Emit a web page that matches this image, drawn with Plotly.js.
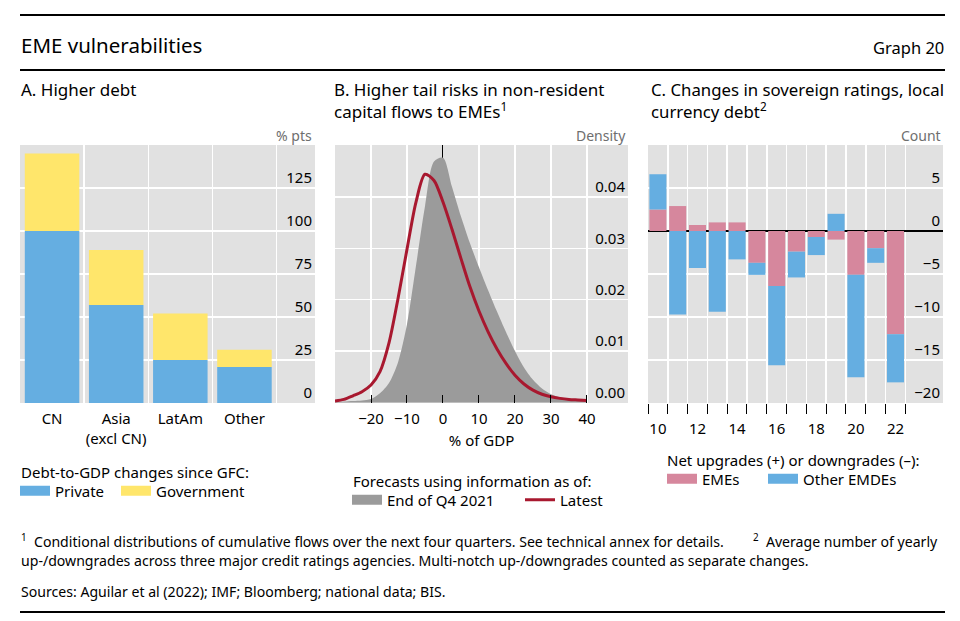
<!DOCTYPE html>
<html><head><meta charset="utf-8">
<script src="https://cdn.plot.ly/plotly-3.0.1.min.js"></script>
<style>html,body{margin:0;padding:0;background:#fff}#chart{width:960px;height:621px}</style>
</head><body><div id="chart"></div>
<script>
// ---------- Panel A: Higher debt ----------
const debtCategories = ['CN', 'Asia<br>(excl CN)', 'LatAm', 'Other'];
const debtPrivate    = [100, 57, 25, 21];
const debtGovernment = [45, 32, 27, 10];
const debtTicks      = [0, 25, 50, 75, 100, 125];

// ---------- Panel B: tail risks in capital flows ----------
const flowX = [-30, -27.5, -25, -22.5, -20, -17.5, -15, -12.5, -10, -7.5, -5, -2.5, 0,
               2.5, 5, 7.5, 10, 12.5, 15, 17.5, 20, 22.5, 25, 27.5, 30, 32.5, 35, 37.5, 40];
const densityQ4 = [0.0001, 0.0002, 0.0003, 0.0004, 0.0007, 0.0018, 0.0038, 0.0078, 0.0152,
                   0.0266, 0.0382, 0.0469, 0.0476, 0.0420, 0.0362, 0.0310, 0.0263, 0.0219,
                   0.0177, 0.0137, 0.0100, 0.0068, 0.0044, 0.0027, 0.0016, 0.0010, 0.0006,
                   0.0004, 0.0003];
const densityLatest = [0.0003, 0.0006, 0.0013, 0.0021, 0.0034, 0.0060, 0.0116, 0.0202, 0.0298,
                       0.0390, 0.0444, 0.0432, 0.0390, 0.0337, 0.0280, 0.0225, 0.0178, 0.0138,
                       0.0104, 0.0076, 0.0053, 0.0036, 0.0024, 0.0016, 0.0011, 0.0008, 0.0006,
                       0.0005, 0.0004];
const flowTicks  = [-30, -20, -10, 0, 10, 20, 30, 40];
const flowLabels = [' ', '−20', '−10', '0', '10', '20', '30', '40'];
const densTicks  = [0, 0.01, 0.02, 0.03, 0.04];

// ---------- Panel C: sovereign rating changes ----------
const ratingYears = [2010, 2011, 2012, 2013, 2014, 2015, 2016, 2017, 2018, 2019, 2020, 2021, 2022];
const ratingEMEs  = [2.5, 2.9, 0.7, 1.0, 1.0, -3.7, -6.4, -2.4, -0.7, -1.0, -5.1, -2.0, -12.0];
const ratingOther = [4.1, -9.7, -4.3, -9.4, -3.3, -1.4, -9.2, -3.0, -2.1, 2.0, -11.9, -1.7, -5.6];
const yearTicks   = [2010, 2012, 2014, 2016, 2018, 2020, 2022];
const yearLabels  = ['10', '12', '14', '16', '18', '20', '22'];
const countTicks  = [-20, -15, -10, -5, 0, 5];
const countLabels = ['−20', '−15', '−10', '−5', '0', '5'];

// ---------- helpers ----------
const W = 960, H = 621;
const px = v => v / W;
const py = v => 1 - v / H;
const FONT = '"Noto Sans", "Open Sans", sans-serif';
const BG = '#E1E1E1';
const BLUE = '#65AEE1', YELLOW = '#FFE66B', PINK = '#D6879D', GREY = '#9B9B9B', RED = '#A8182F';

// legend-only entry drawn as a wide swatch (as in the original's legend keys)
const swatch = (name, color, legend, xa, ya) => ({
  type: 'scatter', mode: 'lines', name: name, x: [null], y: [null],
  line: {color: color, width: 10}, xaxis: xa, yaxis: ya, legend: legend, hoverinfo: 'skip'
});

const traces = [
  {type: 'bar', name: 'Private', x: debtCategories.map((_, i) => i), y: debtPrivate,
   marker: {color: BLUE}, width: 0.85, xaxis: 'x', yaxis: 'y', showlegend: false},
  {type: 'bar', name: 'Government', x: debtCategories.map((_, i) => i), y: debtGovernment,
   marker: {color: YELLOW}, width: 0.85, xaxis: 'x', yaxis: 'y', showlegend: false},
  swatch('Private', BLUE, 'legend', 'x', 'y'),
  swatch('Government', YELLOW, 'legend4', 'x', 'y'),

  {type: 'scatter', mode: 'lines', name: 'End of Q4 2021', x: flowX, y: densityQ4,
   fill: 'tozeroy', fillcolor: GREY, line: {width: 0, color: GREY, shape: 'spline', smoothing: 0.8},
   xaxis: 'x2', yaxis: 'y2', showlegend: false},
  {type: 'scatter', mode: 'lines', name: 'Latest', x: flowX, y: densityLatest,
   line: {width: 3, color: RED, shape: 'spline', smoothing: 0.8}, xaxis: 'x2', yaxis: 'y2',
   legend: 'legend5'},
  swatch('End of Q4 2021', GREY, 'legend2', 'x2', 'y2'),

  {type: 'bar', name: 'EMEs', x: ratingYears, y: ratingEMEs, marker: {color: PINK},
   width: 0.86, xaxis: 'x3', yaxis: 'y3', showlegend: false},
  {type: 'bar', name: 'Other EMDEs', x: ratingYears, y: ratingOther, marker: {color: BLUE},
   width: 0.86, xaxis: 'x3', yaxis: 'y3', showlegend: false},
  swatch('EMEs', PINK, 'legend3', 'x3', 'y3'),
  swatch('Other EMDEs', BLUE, 'legend6', 'x3', 'y3')
];

const tickFont = {family: FONT, size: 15, color: '#000'};
const yDom = [py(403), py(145)];

const yCommon = {
  side: 'right', ticklabelposition: 'inside', ticks: '', showline: false,
  gridcolor: '#FFFFFF', gridwidth: 1.5, tickfont: tickFont, ticklabelshift: -10,
  ticklabelstandoff: 0, domain: yDom
};

const legendAt = (x, y) => ({
  x: px(x), y: py(y), orientation: 'h', xanchor: 'left', yanchor: 'middle',
  bgcolor: 'rgba(0,0,0,0)', borderwidth: 0,
  font: {family: FONT, size: 15, color: '#000'}, itemclick: false, itemdoubleclick: false
});

const layout = {
  width: W, height: H, margin: {l: 0, r: 0, t: 0, b: 0},
  paper_bgcolor: '#FFFFFF', plot_bgcolor: BG, barmode: 'relative', bargap: 0.12,
  font: {family: FONT, size: 15, color: '#000'},
  showlegend: true,

  xaxis: {domain: [px(20), px(315)], range: [-0.5, 4.1], tickvals: [0, 1, 2, 3],
          ticktext: debtCategories, ticks: '', showgrid: false, zeroline: false,
          tickfont: tickFont, anchor: 'y', ticklabelstandoff: 5,
          minor: {tickvals: [0.5, 1.5, 2.5, 3.5], showgrid: true, gridcolor: '#FFFFFF', gridwidth: 1.5, ticks: ''}},
  yaxis: Object.assign({}, yCommon, {anchor: 'x', range: [0, 150], tickvals: debtTicks, zeroline: false}),

  xaxis2: {domain: [px(335), px(628)], range: [-30, 51.4], tickvals: flowTicks, ticktext: flowLabels,
           ticks: 'inside', ticklen: 8, tickcolor: '#000', tickwidth: 1, showgrid: true,
           gridcolor: '#FFFFFF', gridwidth: 1.5, zeroline: true, zerolinecolor: '#000', zerolinewidth: 1,
           tickfont: tickFont, anchor: 'y2', ticklabelstandoff: 5,
           title: {text: '% of GDP', font: {family: FONT, size: 15, color: '#000'}, standoff: 8}},
  yaxis2: Object.assign({}, yCommon, {anchor: 'x2', range: [-0.0001, 0.0501], tickvals: densTicks,
           tickformat: '.2f', zeroline: false}),

  xaxis3: {domain: [px(648), px(943)], range: [2009.5, 2024.4], tickvals: yearTicks, ticktext: yearLabels,
           ticks: '', showgrid: false, zeroline: false, tickfont: tickFont, anchor: 'y3', ticklabelstandoff: 15,
           minor: {tickvals: ratingYears.map(y => y - 0.5).concat([2022.5]), ticks: 'outside', ticklen: 10,
                   tickcolor: '#000', tickwidth: 1, showgrid: true, gridcolor: '#FFFFFF', gridwidth: 1.5}},
  yaxis3: Object.assign({}, yCommon, {anchor: 'x3', range: [-20, 10], tickvals: countTicks,
           ticktext: countLabels, zeroline: true, zerolinecolor: '#000', zerolinewidth: 1.2}),

  legend:  legendAt(15, 491),
  legend4: legendAt(116, 491),
  legend2: legendAt(347, 500),
  legend5: legendAt(520, 500),
  legend3: legendAt(662, 479),
  legend6: legendAt(763, 479),

  shapes: [
    {type: 'line', xref: 'paper', yref: 'paper', x0: px(20), x1: px(945), y0: py(15), y1: py(15), line: {color: '#000', width: 2}},
    {type: 'line', xref: 'paper', yref: 'paper', x0: px(20), x1: px(945), y0: py(70), y1: py(70), line: {color: '#000', width: 2}},
    {type: 'line', xref: 'paper', yref: 'paper', x0: px(20), x1: px(945), y0: py(612), y1: py(612), line: {color: '#000', width: 2}}
  ],

  annotations: [
    {text: 'EME vulnerabilities', x: px(19), y: py(45), xanchor: 'left', yanchor: 'middle', font: {size: 20.5}},
    {text: 'Graph 20', x: px(946), y: py(47), xanchor: 'right', yanchor: 'middle', font: {size: 16.5}},
    {text: 'A. Higher debt', x: px(19), y: py(90), xanchor: 'left', yanchor: 'middle', font: {size: 17}},
    {text: 'B. Higher tail risks in non-resident<br>capital flows to EMEs<sup>1</sup>', x: px(332), y: py(76),
     xanchor: 'left', yanchor: 'top', align: 'left', font: {size: 17}},
    {text: 'C. Changes in sovereign ratings, local<br>currency debt<sup>2</sup>', x: px(649), y: py(76),
     xanchor: 'left', yanchor: 'top', align: 'left', font: {size: 16.8}},
    {text: '% pts', x: px(314), y: py(136), xanchor: 'right', yanchor: 'middle', font: {size: 14, color: '#6E6E6E'}},
    {text: 'Density', x: px(628), y: py(136), xanchor: 'right', yanchor: 'middle', font: {size: 14, color: '#6E6E6E'}},
    {text: 'Count', x: px(943), y: py(136), xanchor: 'right', yanchor: 'middle', font: {size: 14, color: '#6E6E6E'}},
    // legend headings
    {text: 'Debt-to-GDP changes since GFC:', x: px(19), y: py(472), xanchor: 'left', yanchor: 'middle', font: {size: 15}},
    {text: 'Forecasts using information as of:', x: px(351), y: py(481), xanchor: 'left', yanchor: 'middle', font: {size: 15}},
    {text: 'Net upgrades (+) or downgrades (–):', x: px(665), y: py(460), xanchor: 'left', yanchor: 'middle', font: {size: 15}},
    // footnotes
    {text: '<sup>1</sup>  Conditional distributions of cumulative flows over the next four quarters. See technical annex for details.&nbsp;&nbsp;&nbsp;&nbsp;&nbsp;&nbsp;&nbsp;&nbsp;<sup>2</sup>&nbsp;&nbsp;Average number of yearly',
     x: px(19), y: py(540), xanchor: 'left', yanchor: 'middle', font: {size: 14.1}},
    {text: 'up-/downgrades across three major credit ratings agencies. Multi-notch up-/downgrades counted as separate changes.',
     x: px(19), y: py(560), xanchor: 'left', yanchor: 'middle', font: {size: 14.1}},
    {text: 'Sources: Aguilar et al (2022); IMF; Bloomberg; national data; BIS.',
     x: px(19), y: py(591), xanchor: 'left', yanchor: 'middle', font: {size: 14.1}}
  ].map(a => Object.assign({xref: 'paper', yref: 'paper', showarrow: false}, a,
        {font: Object.assign({family: FONT, color: '#000'}, a.font)}))
};

Plotly.newPlot('chart', traces, layout, {staticPlot: true, displayModeBar: false});
</script>
</body></html>
